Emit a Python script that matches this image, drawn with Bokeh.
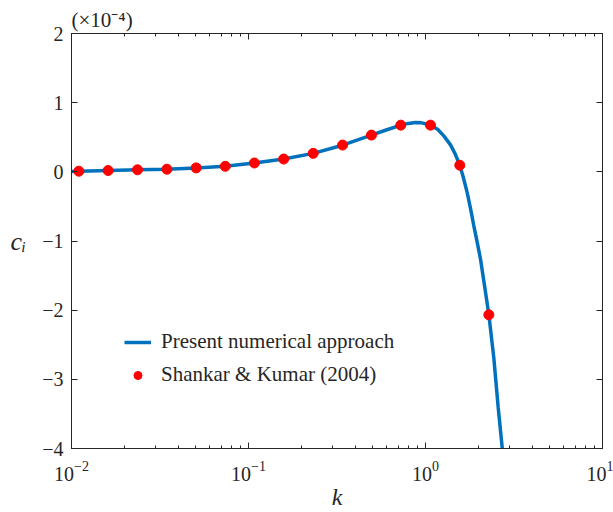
from bokeh.plotting import figure
from bokeh.models import (LogAxis, LinearAxis, Legend, LegendItem,
                          FixedTicker, LogTicker)
from bokeh.embed import file_html
from bokeh.resources import INLINE

# ---- data (c_i in units of 1e-4) ----
k_line = [0.010, 0.011, 0.0161, 0.0236, 0.0346, 0.0506, 0.0739, 0.108, 0.158,
          0.232, 0.340, 0.495, 0.600, 0.725, 0.80, 0.878, 0.95, 1.02, 1.067,
          1.17, 1.269, 1.384, 1.477, 1.562, 1.64, 1.72, 1.796, 1.875, 1.96,
          2.045, 2.183, 2.279, 2.432, 2.575, 2.713, 2.80]
ci_line = [0.005, 0.009, 0.019, 0.029, 0.038, 0.057, 0.080, 0.128, 0.185,
           0.267, 0.385, 0.531, 0.605, 0.675, 0.700, 0.712, 0.708, 0.690, 0.675,
           0.615, 0.52, 0.39, 0.25, 0.095, -0.09, -0.30, -0.53, -0.78, -1.02,
           -1.26, -1.74, -2.063, -2.69, -3.41, -3.99, -4.40]

k_ref = [0.0110, 0.0161, 0.0236, 0.0346, 0.0506, 0.0739, 0.108, 0.158, 0.232,
         0.340, 0.495, 0.725, 1.067, 1.562, 2.279]
ci_ref = [0.009, 0.019, 0.029, 0.038, 0.057, 0.080, 0.128, 0.185, 0.267,
          0.387, 0.531, 0.675, 0.675, 0.095, -2.067]

y_ticks = [-4, -3, -2, -1, 0, 1, 2]
y_tick_labels = ["\u22124", "\u22123", "\u22122", "\u22121", "0", "1", "2"]

series_names = ["Present numerical approach", "Shankar & Kumar (2004)"]
x_label = "k"
y_label = "c\u1d62"
scale_label = "(\u00d710\u207b\u2074)"

FONT = "Liberation Serif"
AX = "#262626"

p = figure(width=613, height=512, x_axis_type="log", x_range=(0.01, 10),
           y_range=(-4, 2), output_backend="svg", toolbar_location=None,
           min_border_left=71, min_border_right=11, min_border_top=33,
           min_border_bottom=61)
p.xgrid.visible = False
p.ygrid.visible = False
p.outline_line_color = AX
p.outline_line_alpha = 1.0
p.background_fill_color = "white"

def style_axis(ax, labels=True):
    ax.axis_line_color = AX
    ax.major_tick_line_color = AX
    ax.minor_tick_line_color = AX
    ax.major_tick_in = 6
    ax.major_tick_out = 0
    ax.minor_tick_in = 3
    ax.minor_tick_out = 0
    ax.major_label_text_font = FONT
    ax.major_label_text_color = AX
    if labels:
        ax.major_label_text_font_size = "20px"
    else:
        ax.major_label_text_font_size = "1px"
        ax.major_label_text_alpha = 0
        ax.major_label_standoff = 0

p.xaxis.ticker = LogTicker(num_minor_ticks=10)
style_axis(p.xaxis[0])
p.xaxis.major_label_standoff = 12
p.xaxis.axis_label = x_label
p.xaxis.axis_label_text_font = FONT
p.xaxis.axis_label_text_font_style = "italic"
p.xaxis.axis_label_text_font_size = "24px"
p.xaxis.axis_label_text_color = AX
p.xaxis.axis_label_standoff = 0

p.yaxis.ticker = FixedTicker(ticks=y_ticks, minor_ticks=[])
style_axis(p.yaxis[0])
p.yaxis.major_label_overrides = {t: s for t, s in zip(y_ticks, y_tick_labels)}
p.yaxis.major_label_standoff = 8
p.yaxis.axis_label = y_label
p.yaxis.axis_label_orientation = "horizontal"
p.yaxis.axis_label_text_font = FONT
p.yaxis.axis_label_text_font_style = "italic"
p.yaxis.axis_label_text_font_size = "26px"
p.yaxis.axis_label_text_color = AX
p.yaxis.axis_label_standoff = 13

top = LogAxis(ticker=LogTicker(num_minor_ticks=10))
style_axis(top, labels=False)
p.add_layout(top, "above")

right = LinearAxis(ticker=FixedTicker(ticks=y_ticks, minor_ticks=[]))
style_axis(right, labels=False)
p.add_layout(right, "right")

p.title.text = scale_label
p.title.align = "left"
p.title.offset = 0
p.title.standoff = 3
p.title.text_font = FONT
p.title.text_font_style = "normal"
p.title.text_font_size = "21px"
p.title.text_color = AX

r_line = p.line(k_line, ci_line, line_color="#0072BD", line_width=3.5)
r_pts = p.scatter(k_ref, ci_ref, size=10, fill_color="#FF0000",
                  line_color="#FF0000")

legend = Legend(items=[LegendItem(label=series_names[0], renderers=[r_line]),
                       LegendItem(label=series_names[1], renderers=[r_pts])],
                location=(53, 61), padding=0, margin=0, spacing=8,
                glyph_width=27, glyph_height=20, label_height=20,
                label_standoff=10, label_text_font=FONT,
                label_text_font_size="21px", label_text_color=AX,
                background_fill_alpha=0, border_line_alpha=0)
p.add_layout(legend)

open("out.html", "w").write(file_html(p, INLINE))
